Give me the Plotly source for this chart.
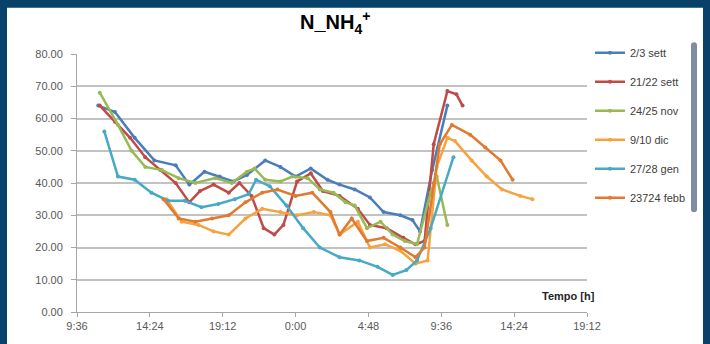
import plotly.graph_objects as go

# ---- data (time in hours from day 1 00:00; >24 = next day) ----
series_names = ["2/3 sett", "21/22 sett", "24/25 nov", "9/10 dic", "27/28 gen", "23724 febb"]
series_colors = ["#4A7EBB", "#BE4B48", "#98B954", "#F6A33F", "#46AAC5", "#E07A30"]

t_sett23 = [11.0, 12.1, 13.4, 14.7, 16.1, 17.0, 18.0, 19.0, 19.9, 20.8, 22.0, 23.0, 24.0, 25.0, 26.1, 26.9, 27.9, 28.9, 29.8, 30.9, 31.7, 32.2, 33.0, 34.0]
v_sett23 = [64, 62, 54, 47, 45.5, 39.5, 43.5, 42, 40.5, 42.5, 47, 45, 42, 44.5, 41, 39.5, 38, 35.5, 31, 30, 28.5, 25, 44, 64]

t_sett2122 = [11.1, 12.1, 13.1, 14.1, 15.1, 16.1, 17.0, 17.7, 18.6, 19.6, 20.3, 21.1, 21.9, 22.6, 23.2, 24.1, 25.0, 25.8, 26.9, 28.1, 28.9, 30.0, 31.1, 31.9, 32.5, 33.1, 34.0, 34.6, 35.0]
v_sett2122 = [64, 59, 54, 48, 44, 40, 34, 37.5, 39.5, 37, 40, 36, 26, 24, 27, 40.5, 43, 37.5, 36, 32, 27, 26, 23, 21, 22, 52, 68.5, 67.5, 64]

t_nov = [11.1, 12.3, 13.2, 14.1, 15.2, 16.3, 17.4, 18.7, 19.8, 20.8, 21.3, 22.0, 23.0, 23.8, 24.8, 25.6, 26.5, 27.3, 27.9, 28.7, 29.6, 30.4, 31.2, 32.0, 32.9, 33.3, 34.0]
v_nov = [68, 58, 50, 45, 44, 41.5, 40, 41.5, 40, 43.5, 44.5, 41, 40.5, 42, 41.5, 38, 37, 34, 33, 26, 28, 24, 22, 21, 37, 42, 27]

t_dic = [15.5, 16.5, 17.6, 18.6, 19.6, 20.7, 21.8, 23.0, 24.1, 25.2, 26.3, 26.9, 28.1, 28.9, 29.9, 30.9, 31.9, 32.7, 33.3, 34.0, 34.5, 35.6, 36.6, 37.6, 38.8, 39.6]
v_dic = [35, 28, 27, 25, 24, 29, 32, 31, 30, 31, 30, 24, 28, 20, 21, 19, 15, 16, 45, 54, 53, 47, 42, 38, 36, 35]

t_gen = [11.4, 12.3, 13.4, 14.5, 15.6, 16.7, 17.8, 18.9, 20.0, 20.9, 21.4, 22.3, 23.4, 24.5, 25.6, 26.9, 28.2, 29.4, 30.4, 31.3, 32.0, 32.9, 34.4]
v_gen = [56, 42, 41, 37, 34.5, 34.5, 32.5, 33.5, 35, 36.5, 41, 39, 33, 26, 20, 17, 16, 14, 11.5, 13, 16, 26, 48]

t_febb = [15.3, 16.3, 17.4, 18.5, 19.6, 20.7, 21.8, 22.8, 24.0, 25.1, 26.3, 26.9, 27.7, 28.7, 29.8, 30.9, 31.9, 32.5, 33.1, 33.5, 34.3, 35.5, 36.5, 37.5, 38.3]
v_febb = [35, 29, 28, 29, 30, 34, 37, 38, 36, 37, 31, 24, 29, 22, 23, 20, 17, 20, 40, 52, 58, 55, 51, 47, 41]

x_tick_vals = [9.6, 14.4, 19.2, 24.0, 28.8, 33.6, 38.4, 43.2]
x_tick_text = ["9:36", "14:24", "19:12", "0:00", "4:48", "9:36", "14:24", "19:12"]

series_t = [t_sett23, t_sett2122, t_nov, t_dic, t_gen, t_febb]
series_v = [v_sett23, v_sett2122, v_nov, v_dic, v_gen, v_febb]

FONT = "Liberation Sans"
fig = go.Figure()
for i, (name, col, t, v) in enumerate(zip(series_names, series_colors, series_t, series_v)):
    fig.add_trace(go.Scatter(
        x=t, y=v, name=name, mode="lines+markers",
        line=dict(color=col, width=2.5),
        marker=dict(color=col, size=4, symbol="circle"),
        legendgroup="g%d" % i,
    ))

L, R, T, B = 77, 587, 54, 316
W = R - L
H = B - T

def px(x):
    return (x - L) / W

def py(y):
    return (B - y) / H

fig.update_layout(
    width=710, height=344,
    margin=dict(l=L, r=710 - R, t=T, b=344 - B),
    paper_bgcolor="#08416A",
    plot_bgcolor="white",
    font=dict(family=FONT, color="#595959", size=11),
    showlegend=True,
    legend=dict(
        x=px(590), y=py(38), xanchor="left", yanchor="top",
        bgcolor="rgba(0,0,0,0)", font=dict(size=11, color="#404040", family=FONT),
        tracegroupgap=10, traceorder="grouped", itemwidth=30,
    ),
    xaxis=dict(
        range=[9.6, 43.2], tickmode="array", tickvals=x_tick_vals, ticktext=x_tick_text,
        showgrid=False, zeroline=False, showline=True, linecolor="#a6a6a6", linewidth=1,
        ticks="outside", ticklen=4, tickcolor="#a6a6a6",
        tickfont=dict(size=11, color="#595959", family=FONT),
    ),
    yaxis=dict(
        range=[0, 80], dtick=10, tickformat=".2f",
        showgrid=True, gridcolor="#c2c2c2", gridwidth=1.8,
        zeroline=False, showline=True, linecolor="#a6a6a6", linewidth=1,
        ticks="outside", ticklen=5, tickcolor="#a6a6a6",
        tickfont=dict(size=11, color="#595959", family=FONT),
        ticklabelstandoff=6,
    ),
    shapes=[dict(
        type="rect", xref="paper", yref="paper", layer="below",
        x0=px(7), x1=px(703), y0=py(360), y1=py(7),
        fillcolor="white", line=dict(width=0),
    )],
    annotations=[
        dict(text="<b>N_NH<sub>4</sub><sup>+</sup></b>", xref="paper", yref="paper",
             x=px(335), y=py(22), xanchor="center", yanchor="middle", showarrow=False,
             font=dict(size=20, color="#000000", family=FONT)),
        dict(text="<b>Tempo [h]</b>", xref="paper", yref="paper",
             x=px(597), y=py(300), xanchor="right", yanchor="middle", showarrow=False,
             font=dict(size=11, color="#262626", family=FONT)),
    ],
)

fig.write_html("out.html")
